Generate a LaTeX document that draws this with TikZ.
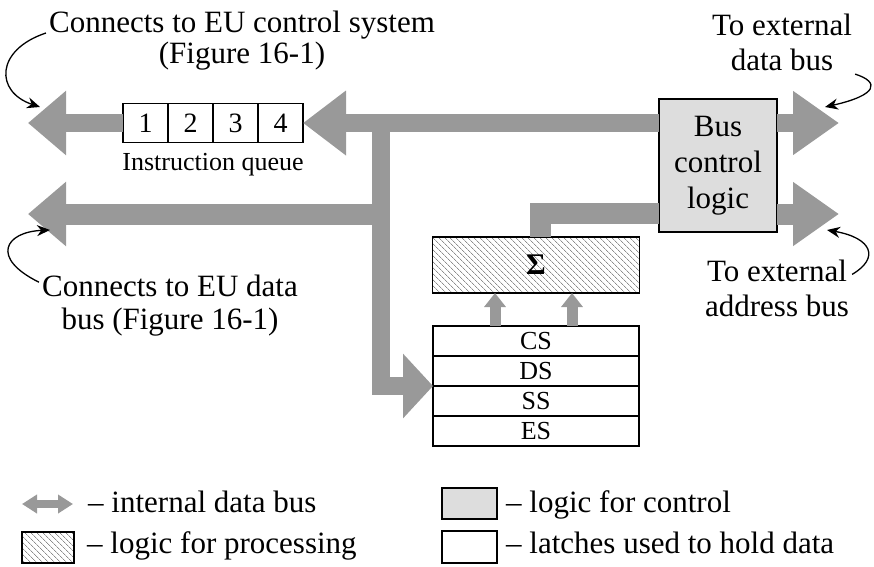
\documentclass[tikz,border=0pt]{standalone}
\usepackage{fontspec}
\setmainfont{Liberation Serif}
\usetikzlibrary{arrows.meta, positioning, patterns.meta}
\definecolor{BusGray}  {HTML}{999999}
\definecolor{CtrlFill} {HTML}{DDDDDD}
\definecolor{HatchGray}{HTML}{8C8C8C}

\begin{document}
\begin{tikzpicture}[
  x=1pt, y=1pt,
  every node/.style={font=\fontsize{31}{35}\selectfont},
  cell/.style={draw, line width=1.6pt, outer sep=0pt, inner sep=0pt},
  qcell/.style={cell, minimum width=45pt, minimum height=39pt,
                font=\fontsize{28}{30}\selectfont},
  reg/.style={cell, minimum width=206pt, minimum height=30pt,
              font=\fontsize{26}{28}\selectfont},
  hbox/.style={cell, pattern={Lines[angle=-45, distance=4pt, line width=0.8pt]},
               pattern color=HatchGray},
  cbox/.style={cell, fill=CtrlFill},
  bus/.style={draw=BusGray, line width=18pt, line join=miter},
  wbus/.style={bus, line width=21pt},
  callout/.style={-{Stealth[length=13pt, width=11pt]}, line width=1.3pt},
  lbl/.style={align=center, inner sep=3pt},
  legtxt/.style={anchor=base west, inner sep=0pt},
]
  \useasboundingbox (0,0) rectangle (874,-566);

  \node[qcell] (q1) at (145.5,-123) {1};
  \node[qcell, right=0pt of q1] (q2) {2};
  \node[qcell, right=0pt of q2] (q3) {3};
  \node[qcell, right=0pt of q3] (q4) {4};
  \node[font=\fontsize{26}{28}\selectfont, below=7pt of q2.south east] (qname)
    {Instruction queue};

  \node[reg] (cs) at (536,-341) {CS};
  \node[reg, below=0pt of cs] (ds) {DS};
  \node[reg, below=0pt of ds] (ss) {SS};
  \node[reg, below=0pt of ss] (es) {ES};

  \node[hbox, minimum width=207pt, minimum height=56pt,
        font=\fontsize{30}{32}\selectfont\bfseries] (sigma) at (536,-265) {Σ};
  \node[cbox, minimum width=118pt, minimum height=133pt, align=center,
        font=\fontsize{31}{36}\selectfont] (bcl) at (718,-165.5)
    {Bus\\control\\logic};

  \node[lbl, font=\fontsize{31}{31}\selectfont] (ctrllbl) at (242,-41)
    {Connects to EU control system\\(Figure 16-1)};
  \node[lbl, font=\fontsize{31}{33}\selectfont] (datalbl) at (170,-306)
    {Connects to EU data\\bus (Figure 16-1)};
  \node[lbl] (extdlbl) at (782,-42.5) {To external\\data bus};
  \node[lbl] (extalbl) at (777,-288) {To external\\address bus};

  \coordinate (ctrlend) at (28,-123);
  \coordinate (dataend) at (28,-214);
  \coordinate (extdend) at (839,-123);
  \coordinate (extaend) at (839,-214);
  \coordinate (trunk)   at (381,-123);
  \coordinate (sumjoin) at (540,-213);

  \draw[bus, -{Triangle[length=43pt, width=62pt]}] (bcl.west |- trunk) -- (q4.east);
  \draw[bus, -{Triangle[length=38pt, width=62pt]}] (q1.west) -- (ctrlend);
  \draw[bus, -{Triangle[length=30pt, width=63pt]}]
    (trunk) -- (trunk |- ds.south west) -- (ds.south west);
  \draw[wbus, -{Triangle[length=38pt, width=62pt]}] (trunk |- dataend) -- (dataend);
  \draw[wbus] (sumjoin |- sigma.north) -- (sumjoin) -- (sumjoin -| bcl.west);
  \draw[bus, -{Triangle[length=46pt, width=61pt]}] (bcl.east |- extdend) -- (extdend);
  \draw[wbus, -{Triangle[length=46pt, width=61pt]}] (bcl.east |- extaend) -- (extaend);
  \draw[bus, line width=11pt, -{Triangle[length=14pt, width=21pt]}]
    ([xshift=-41pt]cs.north) -- ([xshift=-41pt]sigma.south);
  \draw[bus, line width=11pt, -{Triangle[length=14pt, width=21pt]}]
    ([xshift=36pt]cs.north) -- ([xshift=36pt]sigma.south);

  \coordinate (ctrltip) at (40,-107);
  \coordinate (datatip) at (50,-230);
  \coordinate (extdtip) at (825,-107);
  \coordinate (extatip) at (827,-230);
  \draw[callout] ([yshift=8pt]ctrllbl.west) .. controls (-5,-50) and (-5,-92) .. (ctrltip);
  \draw[callout] ([yshift=-10pt]datalbl.north west) .. controls (-10,-258) and (5,-232) .. (datatip);
  \draw[callout] (extdlbl.south east) .. controls (880,-82) and (878,-95) .. (extdtip);
  \draw[callout] ([yshift=-18pt]extalbl.north east) .. controls (880,-258) and (872,-238) .. (extatip);

  % legend
  \coordinate (legl) at (22,-504);
  \coordinate (legr) at (73,-504);
  \draw[bus, line width=8pt, {Triangle[length=15pt, width=18pt]}-{Triangle[length=15pt, width=18pt]}]
    (legl) -- (legr);
  \node[hbox, minimum width=52pt, minimum height=31pt] (leghatch) at (48,-547.5) {};
  \node[cbox, minimum width=55pt, minimum height=31pt] (legctrl) at (469.5,-503.5) {};
  \node[cell, minimum width=55pt, minimum height=32pt] (leglatch) at (469.5,-547) {};
  \node[legtxt] (legbustxt)   at (88,-512)  {-- internal data bus};
  \node[legtxt] (leghatchtxt) at (87,-553)  {-- logic for processing};
  \node[legtxt] (legctrltxt)  at (506,-512) {-- logic for control};
  \node[legtxt] (leglatchtxt) at (506,-553) {-- latches used to hold data};
\end{tikzpicture}
\end{document}
